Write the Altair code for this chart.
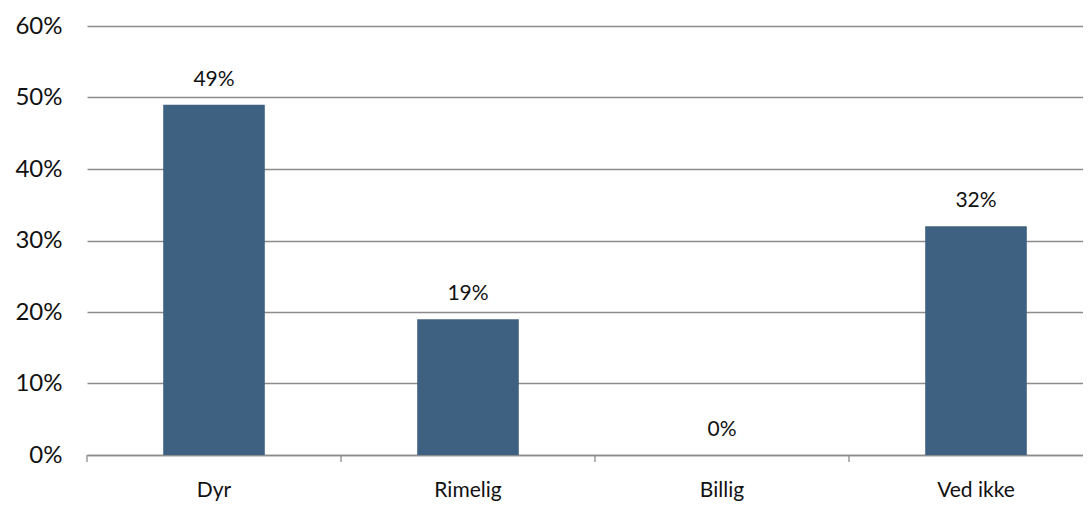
import altair as alt
import pandas as pd

categories = ["Dyr", "Rimelig", "Billig", "Ved ikke"]
values = [0.49, 0.19, 0.0, 0.32]
labels = ["49%", "19%", "0%", "32%"]

df = pd.DataFrame({"cat": categories, "val": values, "lab": labels})

x_scale = alt.Scale(domain=categories, range=[0, 1016], paddingInner=0.6, paddingOuter=0.3)
y_scale = alt.Scale(domain=[0, 0.6])

base = alt.Chart(df)

bars = base.mark_bar(color="#3f6181").encode(
    x=alt.X("cat:N", scale=x_scale, sort=categories,
            axis=alt.Axis(title=None, labelAngle=0, ticks=False, domain=True,
                          domainColor="#8c8c8c", domainWidth=1.3,
                          labelFont="Lato", labelFontSize=21, labelColor="#111111",
                          labelPadding=24)),
    y=alt.Y("val:Q", scale=y_scale,
            axis=alt.Axis(title=None, format=".0%", values=[0, 0.1, 0.2, 0.3, 0.4, 0.5, 0.6],
                          domain=False, ticks=False, grid=True, gridColor="#8c8c8c",
                          gridWidth=1.3, labelFont="Lato", labelFontSize=24,
                          labelColor="#111111", labelPadding=25)),
)

text = base.mark_text(font="Lato", fontSize=21, color="#111111",
                      baseline="alphabetic", dy=-19).encode(
    x=alt.X("cat:N", scale=x_scale, sort=categories),
    y=alt.Y("val:Q", scale=y_scale),
    text="lab:N",
)

ticks = base.mark_rule(color="#8c8c8c", strokeWidth=1.3, xOffset=-76.2).encode(
    x=alt.X("cat:N", scale=x_scale, sort=categories, bandPosition=0),
    y=alt.value(429),
    y2=alt.value(436),
)

chart = alt.layer(bars, text, ticks).properties(
    width=996,
    height=429,
    autosize=alt.AutoSizeParams(type="none"),
    padding={"left": 79, "top": 18, "right": 0, "bottom": 51},
).configure_view(stroke=None)

chart.save("out.html", embed_options={"renderer": "svg", "actions": False})
